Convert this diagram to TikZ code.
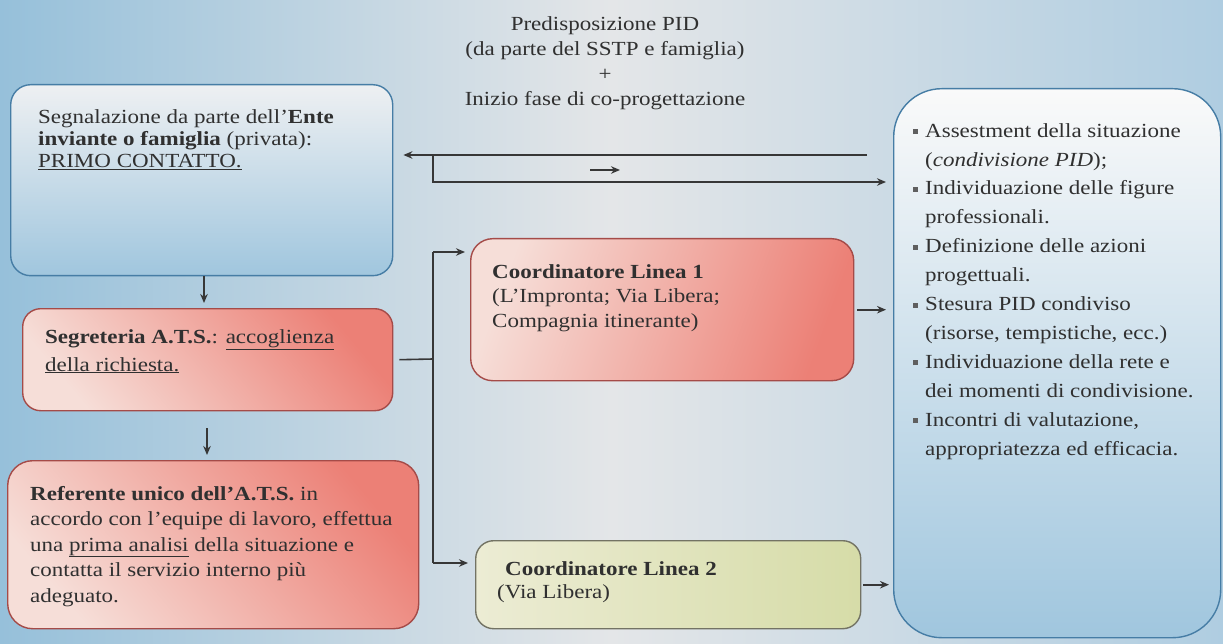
\documentclass[tikz,border=0pt]{standalone}
\usepackage{fontspec}
\setmainfont{Liberation Serif}[FakeStretch=1.15]
\usetikzlibrary{arrows.meta}
\definecolor{txt}{RGB}{48,48,48}
\definecolor{lnc}{RGB}{55,55,55}
\definecolor{bgL}{RGB}{150,192,218}
\definecolor{bgM}{RGB}{228,230,232}
\definecolor{bgR}{RGB}{175,205,225}
\definecolor{blueT}{RGB}{238,240,242}
\definecolor{blueB}{RGB}{160,198,222}
\definecolor{blueD}{RGB}{70,125,165}
\definecolor{redA}{RGB}{236,128,118}
\definecolor{redL}{RGB}{246,222,216}
\definecolor{redD}{RGB}{165,75,72}
\definecolor{grnL}{RGB}{236,236,212}
\definecolor{grnA}{RGB}{214,220,168}
\definecolor{grnD}{RGB}{115,115,100}
\definecolor{bul}{RGB}{95,95,95}
\tikzset{
  rbox/.style={draw, line width=1.4pt, rectangle, inner sep=0pt},
  bluebox/.style={rbox, draw=blueD, top color=blueT, bottom color=blueB},
  redbox/.style={rbox, draw=redD, top color=redA, bottom color=redL, shading angle=-50},
  grnbox/.style={rbox, draw=grnD, left color=grnL, right color=grnA},
  txt/.style={text=txt, inner sep=0pt, align=left, anchor=base west},
  lineconn/.style={draw=lnc, line width=1.6pt},
  arrconn/.style={lineconn, -{Stealth[length=9pt,width=7.5pt]}},
}
\newcommand{\bl}{\llap{\textcolor{bul}{\rule[3pt]{5pt}{5pt}}\hspace{7pt}}}
\begin{document}
\begin{tikzpicture}[x=1pt,y=-1pt]
\useasboundingbox (0,0) rectangle (1223,644);
\fill[left color=bgL, right color=bgR, middle color=bgM] (0,0) rectangle (1223,644);

% boxes
\node[bluebox, rounded corners=20pt, minimum width=382pt, minimum height=191pt, anchor=north west] (b1) at (10,84) {};
\node[redbox, rounded corners=18pt, minimum width=370pt, minimum height=102pt, anchor=north west] (b2) at (22,308) {};
\node[redbox, rounded corners=25pt, minimum width=411pt, minimum height=168pt, anchor=north west] (b3) at (7,460) {};
\node[redbox, rounded corners=22pt, shading angle=-110, minimum width=383pt, minimum height=142pt, anchor=north west] (b4) at (470,238) {};
\node[grnbox, rounded corners=18pt, minimum width=385pt, minimum height=88pt, anchor=north west] (b5) at (475,540) {};
\node[bluebox, top color=white!96!gray, rounded corners=48pt, minimum width=327pt, minimum height=549pt, anchor=north west] (b6) at (893,88) {};

% texts (anchor = baseline of the last line)
\node[txt, font=\fontsize{20}{25}\selectfont, align=center, anchor=base] (top) at (605,106)
 {Predisposizione PID\\(da parte del SSTP e famiglia)\\+\\Inizio fase di co-progettazione};
\node[txt, font=\fontsize{20}{22}\selectfont] (t1) at (38,168)
 {Segnalazione da parte dell’\textbf{Ente}\\\textbf{inviante o famiglia} (privata):\\\underline{PRIMO CONTATTO.}};
\node[txt, font=\fontsize{20}{28}\selectfont] (t2) at (45,371)
 {\textbf{Segreteria A.T.S.}: \underline{accoglienza}\\\underline{della richiesta.}};
\node[txt, font=\fontsize{20}{25.5}\selectfont] (t3) at (30,602)
 {\textbf{Referente unico dell’A.T.S.} in\\accordo con l’equipe di lavoro, effettua\\una \underline{prima analisi} della situazione e\\contatta il servizio interno più\\adeguato.};
\node[txt, font=\fontsize{20}{24.5}\selectfont] (t4) at (492,327)
 {\textbf{Coordinatore Linea 1}\\(L’Impronta; Via Libera;\\Compagnia itinerante)};
\node[txt, font=\fontsize{20}{23}\selectfont] (t5a) at (505,575) {\textbf{Coordinatore Linea 2}};
\node[txt, font=\fontsize{20}{23}\selectfont] (t5b) at (497,598) {(Via Libera)};
\node[txt, font=\fontsize{20}{28.9}\selectfont] (t6) at (925,455)
 {\bl Assestment della situazione\\(\textit{condivisione PID});\\\bl Individuazione delle figure\\professionali.\\\bl Definizione delle azioni\\progettuali.\\\bl Stesura PID condiviso\\(risorse, tempistiche, ecc.)\\\bl Individuazione della rete e\\dei momenti di condivisione.\\\bl Incontri di valutazione,\\appropriatezza ed efficacia.};

% connectors
\coordinate (j1) at (433,155);
\coordinate (j2) at (433,182);
\coordinate (s1) at (590,170);
\coordinate (s2) at (620,170);
\coordinate (bx) at (433,359);
\coordinate (bt) at (433,252);
\coordinate (bb) at (433,563);
\draw[arrconn] ([xshift=-26pt]b6.west |- j1) -- ([xshift=10pt]b1.east |- j1);
\draw[arrconn] (j1) -- (j2) -- ([xshift=-7pt]b6.west |- j2);
\draw[arrconn] (s1) -- (s2);
\draw[arrconn] (b1.south -| 204,0) -- ([yshift=5pt]b2.north -| 204,0);
\draw[arrconn] ([yshift=-17pt]b2.south -| 207,0) -- ([yshift=5pt]b3.north -| 207,0);
\draw[lineconn] ([xshift=6pt]b2.east) -- (bx);
\draw[lineconn] (bt) -- (bb);
\draw[arrconn] (bt) -- ([xshift=-5pt]b4.west |- bt);
\draw[arrconn] (bb) -- ([xshift=-7pt]b5.west |- bb);
\draw[arrconn] ([xshift=3pt]b4.east) -- ([xshift=-7pt]b6.west |- b4.east);
\draw[arrconn] ([xshift=2pt]b5.east) -- ([xshift=-4pt]b6.west |- b5.east);
\end{tikzpicture}
\end{document}
